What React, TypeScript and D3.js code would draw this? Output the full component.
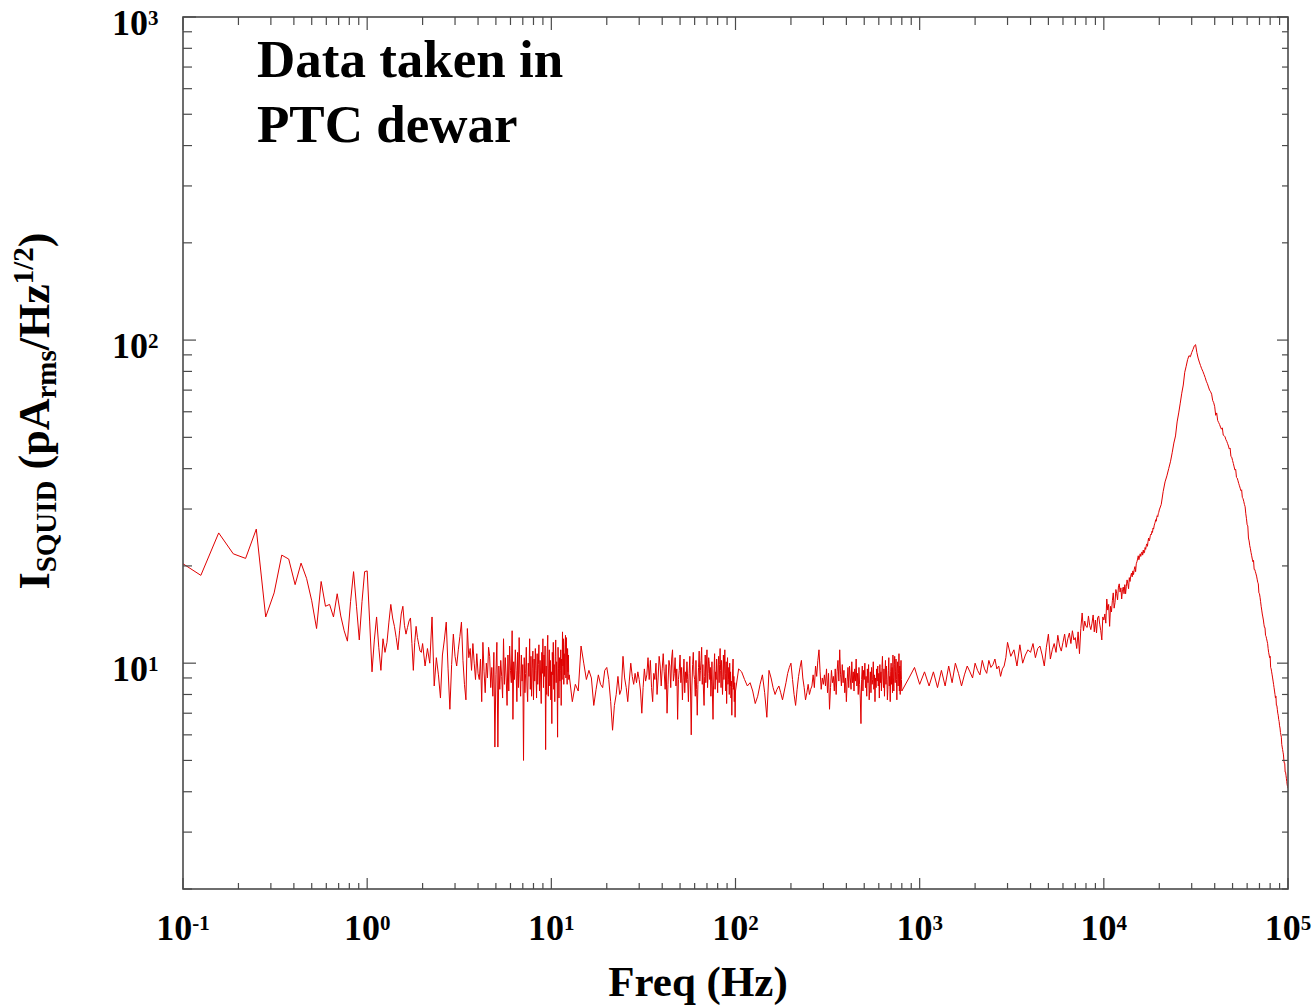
import React from 'react';
import * as d3 from 'd3';

// SQUID current noise spectrum, measured as several analyzer spans joined end to end.
// Each span has a start frequency (Hz), a linear bin step (Hz) and its amplitudes (pA/√Hz).
const spanStart = [0.09375, 2.0625, 13, 104, 875, 3125, 20500];
const spanStep = [0.03125, 0.0625, 0.5, 4, 62.5, 125, 500];

const span1 = [
  20.8, 18.7, 25.3, 21.8, 21.1, 26.0, 13.9, 16.5, 21.6, 21.0,
  17.5, 20.4, 18.3, 15.6, 12.8, 17.9, 15.0, 15.2, 13.9, 16.4,
  14.0, 12.6, 11.7, 15.5, 19.2, 15.0, 11.8, 15.5, 19.2, 19.3,
  13.5, 9.4, 11.8, 13.9, 11.2, 9.5, 11.9, 10.8, 11.6, 13.4,
  15.2, 13.8, 13.0, 12.0, 11.0, 12.6, 14.2, 15.0, 13.1, 12.3,
  12.9, 13.5, 13.8, 11.5, 9.5, 11.6, 13.0, 12.0, 11.4, 10.9,
  10.8, 11.5,
];

const span2 = [
  9.8, 11.1, 10.0, 13.9, 8.5, 10.4, 9.2, 7.8, 10.6, 11.8, 13.4, 9.6, 7.2, 9.9, 12.3, 10.5,
  9.8, 11.0, 12.1, 13.4, 10.2, 8.6, 7.7, 12.8, 10.4, 11.1, 9.5, 11.5, 10.0, 8.9, 10.7, 9.3,
  8.9, 10.3, 7.6, 11.6, 9.4, 8.1, 10.0, 9.0, 11.2, 10.5, 8.4, 9.7, 7.9, 10.8, 5.5, 9.2,
  11.6, 5.5, 9.8, 8.3, 10.2, 9.1, 7.8, 11.9, 8.6, 10.4, 9.0, 7.4, 10.6, 8.2, 11.3, 9.5,
  8.7, 12.6, 6.7, 10.1, 8.9, 11.0, 9.5, 7.6, 10.8, 8.4, 12.0, 9.2, 7.9, 10.6, 8.8, 9.9,
  5.0, 10.4, 8.1, 9.3, 11.2, 8.5, 7.6, 10.0, 9.1, 11.9, 8.3, 10.5, 7.9, 9.6, 10.9, 7.7,
  10.3, 8.8, 11.1, 9.5, 7.8, 10.7, 8.6, 9.9, 11.4, 8.2, 10.2, 9.0, 7.5, 10.8, 9.3, 11.9,
  8.4, 10.6, 9.1, 11.3, 5.4, 9.8, 8.0, 10.9, 12.2, 7.9, 9.6, 11.0, 8.5, 10.2, 7.7, 9.4,
  6.5, 10.8, 9.2, 11.6, 8.3, 9.9, 7.6, 10.5, 11.8, 8.7, 10.1, 9.0, 5.9, 11.2, 9.6, 7.8,
  10.4, 8.8, 9.5, 11.0, 7.4, 10.3, 8.9, 12.5, 9.8, 11.9, 8.6, 10.7, 9.2, 11.4, 12.2, 9.0,
  12.0, 10.3, 8.6, 11.1, 9.4, 10.6, 8.9, 9.2,
];

const span3 = [
  7.6, 8.6, 8.2, 11.3, 10.0, 8.9, 9.5, 9.0, 7.4, 8.3,
  9.2, 8.6, 8.4, 9.5, 9.7, 8.9, 7.6, 6.2, 7.4, 8.0,
  9.1, 8.0, 8.3, 10.5, 9.0, 8.4, 7.6, 8.8, 10.0, 9.1,
  8.6, 9.3, 8.7, 9.4, 8.9, 8.2, 7.0, 8.4, 9.6, 8.8,
  9.2, 10.4, 8.9, 10.2, 8.4, 7.6, 9.3, 8.9, 10.0, 8.0,
  9.0, 10.5, 9.8, 8.5, 9.6, 10.7, 9.4, 8.3, 9.9, 7.0,
  8.6, 10.2, 9.8, 8.4, 10.3, 11.0, 8.8, 9.3, 10.4, 8.5,
  9.6, 6.7, 8.9, 9.5, 10.6, 8.7, 9.7, 7.7, 9.0, 10.3,
  8.1, 9.4, 8.7, 10.1, 8.9, 7.6, 9.3, 10.5, 8.2, 6.0,
  8.5, 9.9, 10.8, 9.2, 8.9, 7.9, 10.2, 8.3, 6.9, 8.6,
  9.7, 10.9, 8.8, 9.5, 10.2, 11.2, 8.6, 9.9, 8.2, 7.4,
  9.1, 10.6, 8.7, 9.8, 11.0, 8.4, 9.3, 10.4, 10.0, 8.9,
  9.7, 7.9, 8.8, 10.1, 7.8, 6.7, 8.5, 9.6, 10.7, 8.3,
  9.4, 8.9, 10.3, 9.0, 8.1, 9.8, 10.5, 8.7, 9.9, 11.1,
  9.5, 8.4, 10.2, 9.1, 8.0, 9.2, 10.6, 8.9, 9.8, 11.0,
  9.3, 8.2, 10.1, 7.5, 9.0, 10.4, 8.6, 8.9, 9.7, 8.0,
  10.0, 8.5, 9.4, 7.8, 8.8, 6.9, 8.4, 9.6, 10.3, 8.3,
  9.1, 7.6, 8.7, 6.8, 8.2,
];

const span4 = [
  9.6, 9.4, 8.9, 8.5, 8.7, 8.2, 7.5, 7.9, 8.6, 9.2,
  8.1, 6.8, 9.5, 9.0, 8.4, 8.0, 8.3, 8.5, 8.1, 7.7,
  8.2, 8.7, 9.3, 9.7, 10.0, 8.9, 8.0, 7.4, 8.3, 9.1,
  9.7, 10.2, 9.0, 8.4, 7.7, 8.1, 8.6, 8.0, 8.3, 8.5,
  9.2, 8.4, 9.8, 9.1, 10.2, 11.0, 9.4, 8.3, 9.0, 8.6,
  9.2, 8.5, 9.6, 8.1, 9.3, 7.2, 8.4, 9.5, 8.7, 9.1,
  8.2, 9.6, 8.0, 9.4, 10.2, 8.8, 11.0, 9.2, 8.5, 9.9,
  8.7, 9.5, 8.1, 9.0, 7.6, 8.8, 9.7, 8.4, 9.8, 9.0,
  8.3, 10.1, 8.7, 9.4, 8.2, 9.6, 8.8, 10.3, 8.5, 9.3,
  8.0, 9.7, 8.6, 7.8, 6.5, 8.9, 9.8, 8.2, 9.5, 8.9,
  10.0, 8.4, 9.1, 7.9, 9.6, 8.7, 9.9, 7.7, 8.5, 9.4,
  8.1, 9.7, 8.6, 8.9, 10.1, 8.3, 9.2, 7.6, 9.0, 8.4,
  9.6, 8.8, 9.8, 8.5, 9.3, 7.8, 9.9, 8.7, 9.4, 8.2,
  9.7, 10.5, 9.0, 8.4, 9.6, 7.9, 9.2, 10.2, 8.6, 9.8,
  8.9, 7.7, 8.3, 9.5, 10.4, 8.5, 9.1, 7.6, 9.4, 10.0,
  8.6, 9.7, 8.1, 10.6, 9.0, 8.2, 9.9, 10.5, 8.7, 9.4,
  10.3, 8.9, 7.7, 9.6, 10.1, 8.5, 9.3, 10.7, 8.2, 9.8,
  8.0, 9.5, 10.2, 8.9, 8.2,
];

const span5 = [
  9.0, 9.7, 8.6, 9.4, 8.5, 9.4, 8.4, 9.5, 8.5, 9.8,
  8.7, 10.0, 9.3, 8.5, 9.2, 9.8, 9.4, 9.0, 10.0, 9.5,
  9.2, 10.2, 9.6, 9.3, 10.2, 9.7, 9.9, 10.3, 9.6, 9.8,
  9.1, 9.6, 9.8, 10.4, 11.6,
];

const span6 = [
  10.5, 11.0, 9.8, 11.4, 10.0, 10.6, 11.0, 10.8,
  11.5, 10.4, 11.1, 11.3, 10.6, 9.8, 11.2, 12.3,
  10.3, 11.0, 11.5, 10.8, 12.2, 11.3, 10.9, 11.6,
  12.3, 11.2, 11.9, 12.4, 11.5, 12.6, 11.8, 12.0,
  11.1, 12.5, 10.7, 12.8, 14.3, 12.6, 13.5, 13.0,
  12.9, 14.0, 13.1, 12.7, 13.3, 14.1, 12.5, 13.6,
  12.4, 13.8, 14.0, 13.2, 12.6, 11.8, 13.9, 13.6,
  14.2, 13.3, 15.8, 14.6, 15.2, 13.0, 15.0, 14.4,
  15.6, 16.5, 14.8, 15.4, 16.9, 16.4, 15.7, 17.2,
  17.6, 16.6, 17.1, 15.8, 16.9, 17.2, 16.4, 17.5,
  16.4, 17.3, 18.1, 17.6, 17.0, 18.4, 17.9, 18.6,
  19.0, 18.5, 19.3, 18.8, 19.5, 19.9, 19.2, 20.3,
  20.6, 21.0, 21.5, 20.9, 21.3, 21.8, 21.4, 21.9,
  22.1, 21.6, 22.4, 21.9, 22.0, 22.8, 22.5, 23.1,
  23.4, 23.0, 23.8, 24.4, 23.9, 24.2, 24.8, 25.1,
  25.0, 25.6, 25.4, 26.2, 26.0, 26.6, 27.0, 27.3,
  27.8, 27.5, 28.2, 28.6, 28.4, 29.0, 29.3, 29.8,
];

const span7 = [
  31.0, 34.0, 36.4, 38.0, 40.0, 42.0, 44.8, 48.0, 50.5, 55.8,
  59.5, 63.8, 68.5, 72.6, 79.5, 83.0, 87.0, 89.5, 88.8, 91.5,
  93.6, 96.0, 96.8, 91.5, 88.0, 85.5, 83.4, 81.5, 80.0, 78.3,
  76.6, 74.6, 73.3, 71.6, 70.0, 69.2, 68.0, 65.0, 64.0, 62.2,
  58.5, 59.5, 56.4, 55.6, 54.8, 53.8, 53.0, 53.5, 50.8, 50.6,
  50.2, 49.2, 48.6, 47.8, 47.0, 46.0, 46.3, 43.6, 43.4, 42.4,
  41.5, 40.5, 39.6, 39.8, 37.6, 37.4, 36.7, 36.0, 35.4, 34.8,
  34.2, 34.4, 32.6, 32.3, 31.7, 31.0, 30.5, 29.0, 28.0, 26.8,
  26.6, 24.4, 23.9, 23.1, 22.6, 22.0, 21.5, 21.0, 20.6, 20.8,
  19.5, 19.5, 19.2, 18.9, 18.6, 18.2, 17.8, 17.6, 16.5, 16.4,
  16.0, 15.5, 15.0, 14.6, 14.2, 13.9, 13.6, 13.2, 12.9, 12.9,
  12.2, 12.1, 11.9, 11.7, 11.5, 11.1, 10.8, 10.6, 10.4, 10.5,
  9.7, 9.6, 9.4, 9.2, 9.0, 8.8, 8.6, 8.4, 8.2, 8.0,
  7.8, 7.9, 7.4, 7.4, 7.2, 7.0, 6.9, 6.7, 6.6, 6.4,
  6.3, 6.1, 6.0, 5.9, 5.6, 5.5, 5.4, 5.3, 5.2, 5.0,
  4.9, 4.9, 4.6, 4.6, 4.5, 4.4, 4.3, 4.2, 4.15, 4.1,
];

const spanValues = [span1, span2, span3, span4, span5, span6, span7];

const xTickExponents = [-1, 0, 1, 2, 3, 4, 5];
const yTickExponents = [1, 2, 3];
const titleLines = ['Data taken in', 'PTC dewar'];
const xAxisLabel = 'Freq (Hz)';

const W = 1316;
const H = 1006;
const plot = { left: 183, right: 1288, top: 17, bottom: 889 };
const FONT = "'Liberation Serif', 'Times New Roman', serif";
const AXIS = '#4a4a4a';

export default function App() {
  const x = d3.scaleLog().domain([0.1, 1e5]).range([plot.left, plot.right]);
  const y = d3.scaleLog().domain([2, 1000]).range([plot.bottom, plot.top]);

  const points: [number, number][] = spanValues.flatMap((vals, s) =>
    vals.map((v, i) => [spanStart[s] + i * spanStep[s], v] as [number, number])
  );
  const path = d3
    .line<[number, number]>()
    .x((d) => x(d[0]))
    .y((d) => y(d[1]))(points);

  const isMajor = (t: number) => Math.abs(Math.log10(t) - Math.round(Math.log10(t))) < 1e-6;
  const xTicks = x.ticks();
  const yTicks = y.ticks();

  return (
    <svg
      width={W}
      height={H}
      style={{ position: 'absolute', left: 0, top: 0, background: '#fff' }}
      fontFamily={FONT}
      fontWeight="bold"
    >
      <defs>
        <clipPath id="plot-clip">
          <rect x={plot.left} y={plot.top} width={plot.right - plot.left} height={plot.bottom - plot.top} />
        </clipPath>
      </defs>

      {/* noise spectrum */}
      <path d={path ?? ''} fill="none" stroke="#e00000" strokeWidth={1} strokeLinejoin="round" clipPath="url(#plot-clip)" />

      {/* frame */}
      <rect
        x={plot.left}
        y={plot.top}
        width={plot.right - plot.left}
        height={plot.bottom - plot.top}
        fill="none"
        stroke={AXIS}
        strokeWidth={1.6}
      />

      {/* x ticks, bottom and top, pointing inward */}
      {xTicks.map((t, i) => {
        const px = x(t);
        const len = isMajor(t) ? 11 : 6;
        return (
          <g key={'xt' + i} stroke={AXIS} strokeWidth={1.2}>
            <line x1={px} x2={px} y1={plot.bottom} y2={plot.bottom - len} />
            <line x1={px} x2={px} y1={plot.top} y2={plot.top + len + 2} />
          </g>
        );
      })}

      {/* y ticks, left and right, pointing inward */}
      {yTicks.map((t, i) => {
        const py = y(t);
        const major = isMajor(t);
        return (
          <g key={'yt' + i} stroke={AXIS} strokeWidth={1.2}>
            <line x1={plot.left} x2={plot.left + (major ? 13 : 9)} y1={py} y2={py} />
            <line x1={plot.right} x2={plot.right - (major ? 11 : 6)} y1={py} y2={py} />
          </g>
        );
      })}

      {/* x tick labels */}
      {xTickExponents.map((e) => (
        <text key={'xl' + e} x={x(Math.pow(10, e))} y={940} textAnchor="middle" fontSize={36} fill="#000">
          <tspan>10</tspan>
          <tspan fontSize={21} dy={-10}>{String(e)}</tspan>
        </text>
      ))}

      {/* y tick labels */}
      {yTickExponents.map((e) => (
        <text key={'yl' + e} x={112} y={y(Math.pow(10, e)) + 18} fontSize={36} fill="#000">
          <tspan>10</tspan>
          <tspan fontSize={21} dy={-10}>{String(e)}</tspan>
        </text>
      ))}

      {/* axis titles */}
      <text x={698} y={996} textAnchor="middle" fontSize={43} fill="#000">
        {xAxisLabel}
      </text>
      <text transform="translate(49,411) rotate(-90)" textAnchor="middle" fontSize={44} fill="#000">
        <tspan>I</tspan>
        <tspan fontSize={29} dy={7}>SQUID</tspan>
        <tspan dy={-7}> (pA</tspan>
        <tspan fontSize={29} dy={7}>rms</tspan>
        <tspan dy={-7}>/Hz</tspan>
        <tspan fontSize={29} dy={-16}>1/2</tspan>
        <tspan dy={16}>)</tspan>
      </text>

      {/* annotation */}
      {titleLines.map((line, i) => (
        <text key={'tl' + i} x={257} y={77 + i * 65} fontSize={53} fill="#000">
          {line}
        </text>
      ))}
    </svg>
  );
}
